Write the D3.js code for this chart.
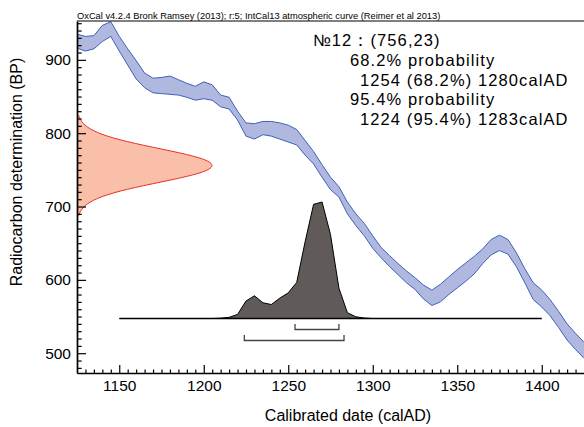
<!DOCTYPE html>
<html>
<head>
<meta charset="utf-8">
<script src="https://cdn.jsdelivr.net/npm/d3@7"></script>
<style>
body { margin: 0; background: #fff; }
text { font-family: "Liberation Sans", Arial, sans-serif; fill: #000; }
</style>
</head>
<body>
<script>
// IntCal13 band (1 sigma), 5 yr steps
var curveYears = [1125,1130,1135,1140,1145,1150,1155,1160,1165,1170,1175,1180,1185,1190,1195,1200,1205,1210,1215,1220,
  1225,1230,1235,1240,1245,1250,1255,1260,1265,1270,1275,1280,1285,1290,1295,1300,1305,1310,1315,1320,
  1325,1330,1335,1340,1345,1350,1355,1360,1365,1370,1375,1380,1385,1390,1395,1400,1405,1410,1415,1420,1425];
var curveHi = [935,932,933,947,952,932,915,899,882,875,876,878,873,868,864,870,866,852,849,830,
  814,813,816,816,814,811,805,790,775,757,740,727,706,690,677,660,644,633,622,612,
  603,593,586,594,604,614,623,632,642,655,661,655,637,615,596,586,573,557,540,527,515];
var curveLo = [916,912,915,925,932,912,893,874,862,855,854,853,852,849,845,847,845,836,833,818,
  796,792,798,796,792,788,784,770,758,740,723,713,690,674,660,643,630,618,607,596,
  587,574,565,570,580,589,598,608,622,634,640,635,618,596,573,563,551,535,518,505,493];

// calibrated probability (relative)
var postYears = [1205,1210,1215,1220,1225,1230,1235,1240,1245,1250,1255,1260,1265,1270,1275,1280,1285,1290,1295,1300];
var postProb  = [0,0.003,0.01,0.035,0.15,0.195,0.135,0.12,0.175,0.22,0.31,0.66,0.98,1.0,0.72,0.26,0.05,0.015,0.004,0];

// measured date 756 +/- 23 BP, relative height of the normal curve
var measBP = 756;
var measOffsets = [-69,-65,-60,-55,-50,-45,-40,-35,-30,-25,-20,-15,-10,-5,0,5,10,15,20,25,30,35,40,45,50,55,60,65,69];
var measDensity = [0.011,0.018,0.033,0.057,0.094,0.148,0.22,0.314,0.427,0.554,0.685,0.808,0.91,0.977,1,
  0.977,0.91,0.808,0.685,0.554,0.427,0.314,0.22,0.148,0.094,0.057,0.033,0.018,0.011];

var range68 = [1254, 1280];
var range95 = [1224, 1283];

var xMajor = [1150,1200,1250,1300,1350,1400];
var yMajor = [500,600,700,800,900];

var infoLines = ["№12：(756,23)", "68.2% probability", "1254 (68.2%) 1280calAD", "95.4% probability", "1224 (95.4%) 1283calAD"];
var titleText = "OxCal v4.2.4 Bronk Ramsey (2013); r:5; IntCal13 atmospheric curve (Reimer et al 2013)";

var W = 584, H = 427,
    pLeft = 77, pRight = 584, pTop = 21, pBottom = 373;

var svg = d3.select("body").append("svg").attr("width", W).attr("height", H);

var x = d3.scaleLinear().domain([1125, 1425]).range([pLeft, pRight]),
    y = d3.scaleLinear().domain([473, 953]).range([pBottom, pTop]);

// calibration band
var band = curveYears.map(function(d, i) { return {yr: d, hi: curveHi[i], lo: curveLo[i]}; });
svg.append("path").datum(band)
  .attr("d", d3.area().x(function(d){ return x(d.yr); }).y0(function(d){ return y(d.lo); }).y1(function(d){ return y(d.hi); }))
  .attr("fill", "#b0b8e0");
["hi","lo"].forEach(function(k) {
  svg.append("path").datum(band)
    .attr("d", d3.line().x(function(d){ return x(d.yr); }).y(function(d){ return y(d[k]); }))
    .attr("fill", "none").attr("stroke", "#3b62b8").attr("stroke-width", 1);
});

// measurement on the y axis
var hx = d3.scaleLinear().domain([0, 1]).range([pLeft, 213]);
var meas = measOffsets.map(function(d, i) { return {bp: measBP + d, p: measDensity[i]}; });
svg.append("path").datum(meas)
  .attr("d", d3.area().curve(d3.curveBasis).y(function(d){ return y(d.bp); }).x0(pLeft).x1(function(d){ return hx(d.p); }))
  .attr("fill", "#f9bfa8");
svg.append("path").datum(meas)
  .attr("d", d3.line().curve(d3.curveBasis).y(function(d){ return y(d.bp); }).x(function(d){ return hx(d.p); }))
  .attr("fill", "none").attr("stroke", "#e8302a").attr("stroke-width", 1);

// posterior
var py = d3.scaleLinear().domain([0, 1]).range([318.5, 202]);
var post = postYears.map(function(d, i) { return {yr: d, p: postProb[i]}; });
svg.append("path").datum(post)
  .attr("d", d3.area().x(function(d){ return x(d.yr); }).y0(py(0)).y1(function(d){ return py(d.p); }))
  .attr("fill", "#605b59").attr("stroke", "#000").attr("stroke-width", 1);
svg.append("line")
  .attr("x1", x(1150)).attr("x2", x(1400)).attr("y1", py(0)).attr("y2", py(0))
  .attr("stroke", "#000").attr("stroke-width", 1.3);

// range brackets
function bracket(r, yb, h) {
  svg.append("path")
    .attr("d", "M" + x(r[0]) + "," + (yb - h) + "V" + yb + "H" + x(r[1]) + "V" + (yb - h))
    .attr("fill", "none").attr("stroke", "#444").attr("stroke-width", 1.3);
}
bracket(range68, 329.5, 5.5);
bracket(range95, 340.5, 5.5);

// axes
svg.append("g").attr("transform", "translate(" + pLeft + ",0)")
  .call(d3.axisLeft(y).tickValues(yMajor).tickSizeInner(-9).tickSizeOuter(0).tickPadding(6).tickFormat(d3.format("d")));
svg.append("g").attr("transform", "translate(" + pLeft + ",0)")
  .call(d3.axisLeft(y).tickValues(d3.range(480, 951, 10).filter(function(v){ return v % 100; }))
    .tickSizeInner(-4.7).tickSizeOuter(0).tickFormat(""))
  .select(".domain").remove();
svg.append("g").attr("transform", "translate(0," + pBottom + ")")
  .call(d3.axisBottom(x).tickValues(xMajor).tickSizeInner(-8).tickSizeOuter(0).tickPadding(6.5).tickFormat(d3.format("d")));
svg.append("g").attr("transform", "translate(0," + pBottom + ")")
  .call(d3.axisBottom(x).tickValues(d3.range(1130, 1425, 5).filter(function(v){ return v % 50; }))
    .tickSizeInner(-3.5).tickSizeOuter(0).tickFormat(""))
  .select(".domain").remove();

svg.selectAll(".tick line").attr("stroke", "#000").attr("stroke-width", 1.2);
svg.selectAll(".domain").attr("stroke", "#000").attr("stroke-width", 1.7);
svg.selectAll(".tick text").attr("font-size", 15.5).attr("font-family", "Liberation Sans, Arial, sans-serif").attr("fill", "#000");

// top frame line
svg.append("line").attr("x1", pLeft).attr("x2", pRight).attr("y1", pTop).attr("y2", pTop)
  .attr("stroke", "#000").attr("stroke-width", 1);

// titles
svg.append("text").attr("x", pLeft).attr("y", 18.5).attr("font-size", 9.3).text(titleText);
svg.append("text").attr("x", 348).attr("y", 421).attr("text-anchor", "middle").attr("font-size", 16)
  .text("Calibrated date (calAD)");
svg.append("text").attr("transform", "translate(22,172) rotate(-90)").attr("text-anchor", "middle").attr("font-size", 16)
  .text("Radiocarbon determination (BP)");

// info block
var infoX = [313, 350, 360, 350, 360], infoY = [46, 66, 85.5, 105, 124.5];
svg.selectAll(".info").data(infoLines).enter().append("text")
  .attr("class", "info")
  .attr("x", function(d, i){ return infoX[i]; })
  .attr("y", function(d, i){ return infoY[i]; })
  .attr("font-size", 16.5).attr("letter-spacing", 1.1)
  .text(function(d){ return d; });
</script>
</body>
</html>
